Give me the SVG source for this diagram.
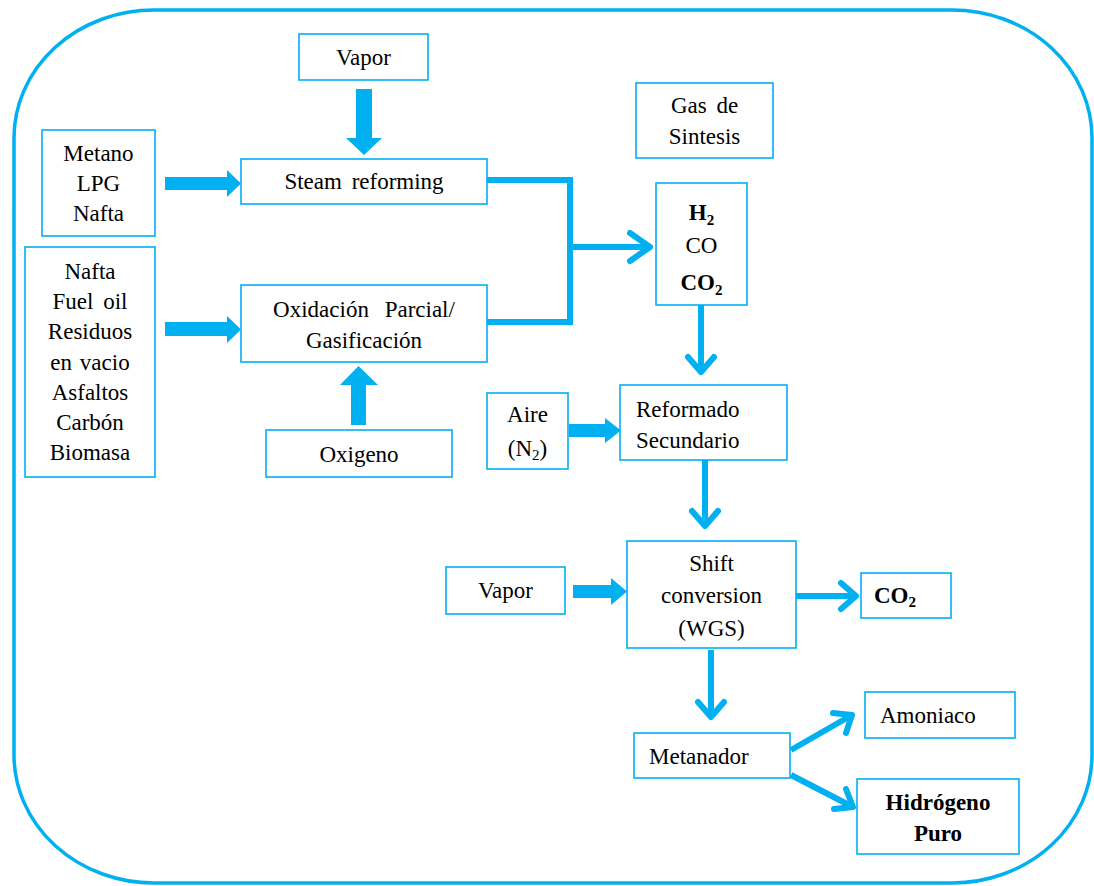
<svg xmlns="http://www.w3.org/2000/svg" width="1094" height="886" viewBox="0 0 1094 886">
<defs>
<style>
.box{fill:#fff;stroke:#00B0F0;stroke-width:1.6}
text{font-family:'Liberation Serif',serif;font-size:23px;fill:#000}
.c{text-anchor:middle}
.b{font-weight:bold}
.ln{fill:none;stroke:#00B0F0;stroke-width:6;stroke-linejoin:miter;stroke-linecap:butt}
.hd{fill:none;stroke:#00B0F0;stroke-width:6;stroke-linecap:round;stroke-linejoin:round}
.blk{fill:#00B0F0}
</style>
</defs>
<rect x="0" y="0" width="1094" height="886" fill="#fff"/>
<rect x="14" y="10" width="1078" height="873" rx="140" ry="128" fill="none" stroke="#00B0F0" stroke-width="3.5"/>

<g id="connectors">
  <polygon class="blk" points="356,89 372,89 372,138 382,138 364,155 346,138 356,138"/>
  <polygon class="blk" points="165,177 227,177 227,170 241,183.5 227,197 227,190 165,190"/>
  <polygon class="blk" points="165,322 227,322 227,316 241,329.5 227,343 227,336 165,336"/>
  <polygon class="blk" points="351,425 366,425 366,385 378,385 358.5,366 340,385 351,385"/>
  <polygon class="blk" points="569,424 605,424 605,418 621,430.5 605,443 605,437 569,437"/>
  <polygon class="blk" points="573,585 611,585 611,578 627,591.5 611,605 611,598 573,598"/>
  <polyline class="ln" points="487,180 570,180 570,322 487,322"/>
  <line class="ln" x1="570" y1="247" x2="650" y2="247"/>
  <polyline class="hd" points="630,233 650,247 630,261"/>
  <line class="ln" x1="701" y1="305" x2="701" y2="372"/>
  <polyline class="hd" points="688,357 701,372 714,357"/>
  <line class="ln" x1="705" y1="460" x2="705" y2="526"/>
  <polyline class="hd" points="692,511 705,526 718,511"/>
  <line class="ln" x1="796" y1="596" x2="856" y2="596"/>
  <polyline class="hd" points="841,583 856,596 841,609"/>
  <line class="ln" x1="711" y1="650" x2="711" y2="717"/>
  <polyline class="hd" points="698,702 711,717 724,702"/>
  <line class="ln" x1="791" y1="750" x2="852" y2="715"/>
  <polyline class="hd" points="833,713 852,715 846,733"/>
  <line class="ln" x1="791" y1="775" x2="853" y2="807"/>
  <polyline class="hd" points="846,789 853,807 834,809"/>
</g>

<g id="vapor-top">
  <rect class="box" x="299" y="34" width="129" height="46"/>
  <text class="c" x="363.5" y="65">Vapor</text>
</g>
<g id="gas-sintesis">
  <rect class="box" x="636" y="83" width="137" height="75"/>
  <text class="c" x="704.5" y="113" word-spacing="4">Gas de</text>
  <text class="c" x="704.5" y="144">Sintesis</text>
</g>
<g id="metano">
  <rect class="box" x="42" y="130" width="113" height="106"/>
  <text class="c" x="98.5" y="161">Metano</text>
  <text class="c" x="98.5" y="191">LPG</text>
  <text class="c" x="98.5" y="221">Nafta</text>
</g>
<g id="steam-reforming">
  <rect class="box" x="241" y="159" width="246" height="45"/>
  <text class="c" x="364" y="189" word-spacing="4">Steam reforming</text>
</g>
<g id="syngas">
  <rect class="box" x="656" y="183" width="91" height="122"/>
  <text class="c b" x="701.5" y="220">H<tspan font-size="15" dy="5">2</tspan></text>
  <text class="c" x="701.5" y="253">CO</text>
  <text class="c b" x="701.5" y="290">CO<tspan font-size="15" dy="5">2</tspan></text>
</g>
<g id="nafta-list">
  <rect class="box" x="25" y="247" width="130" height="230"/>
  <text class="c" x="90" y="279">Nafta</text>
  <text class="c" x="90" y="309" word-spacing="4">Fuel oil</text>
  <text class="c" x="90" y="339">Residuos</text>
  <text class="c" x="90" y="370" word-spacing="2">en vacio</text>
  <text class="c" x="90" y="400">Asfaltos</text>
  <text class="c" x="90" y="430">Carbón</text>
  <text class="c" x="90" y="460">Biomasa</text>
</g>
<g id="oxidacion">
  <rect class="box" x="241" y="285" width="246" height="77"/>
  <text class="c" x="364" y="317" word-spacing="10">Oxidación Parcial/</text>
  <text class="c" x="364" y="348">Gasificación</text>
</g>
<g id="oxigeno">
  <rect class="box" x="266" y="430" width="186" height="47"/>
  <text class="c" x="359" y="462">Oxigeno</text>
</g>
<g id="aire">
  <rect class="box" x="487" y="393" width="81" height="76"/>
  <text class="c" x="527.5" y="422">Aire</text>
  <text class="c" x="527.5" y="456">(N<tspan font-size="15" dy="4">2</tspan><tspan dy="-4">)</tspan></text>
</g>
<g id="reformado">
  <rect class="box" x="620" y="385" width="167" height="75"/>
  <text x="636" y="417">Reformado</text>
  <text x="636" y="448">Secundario</text>
</g>
<g id="vapor-mid">
  <rect class="box" x="446" y="567" width="119" height="47"/>
  <text class="c" x="505.5" y="598">Vapor</text>
</g>
<g id="shift">
  <rect class="box" x="627" y="541" width="169" height="107"/>
  <text class="c" x="711.5" y="571">Shift</text>
  <text class="c" x="711.5" y="603">conversion</text>
  <text class="c" x="711.5" y="636">(WGS)</text>
</g>
<g id="co2-out">
  <rect class="box" x="861" y="573" width="90" height="45"/>
  <text class="b" x="874" y="603">CO<tspan font-size="15" dy="4">2</tspan></text>
</g>
<g id="metanador">
  <rect class="box" x="634" y="733" width="156" height="45"/>
  <text x="649" y="764">Metanador</text>
</g>
<g id="amoniaco">
  <rect class="box" x="865" y="692" width="150" height="46"/>
  <text x="880" y="723">Amoniaco</text>
</g>
<g id="hidrogeno">
  <rect class="box" x="857" y="779" width="162" height="75"/>
  <text class="c b" x="938" y="810">Hidrógeno</text>
  <text class="c b" x="938" y="841">Puro</text>
</g>
</svg>
